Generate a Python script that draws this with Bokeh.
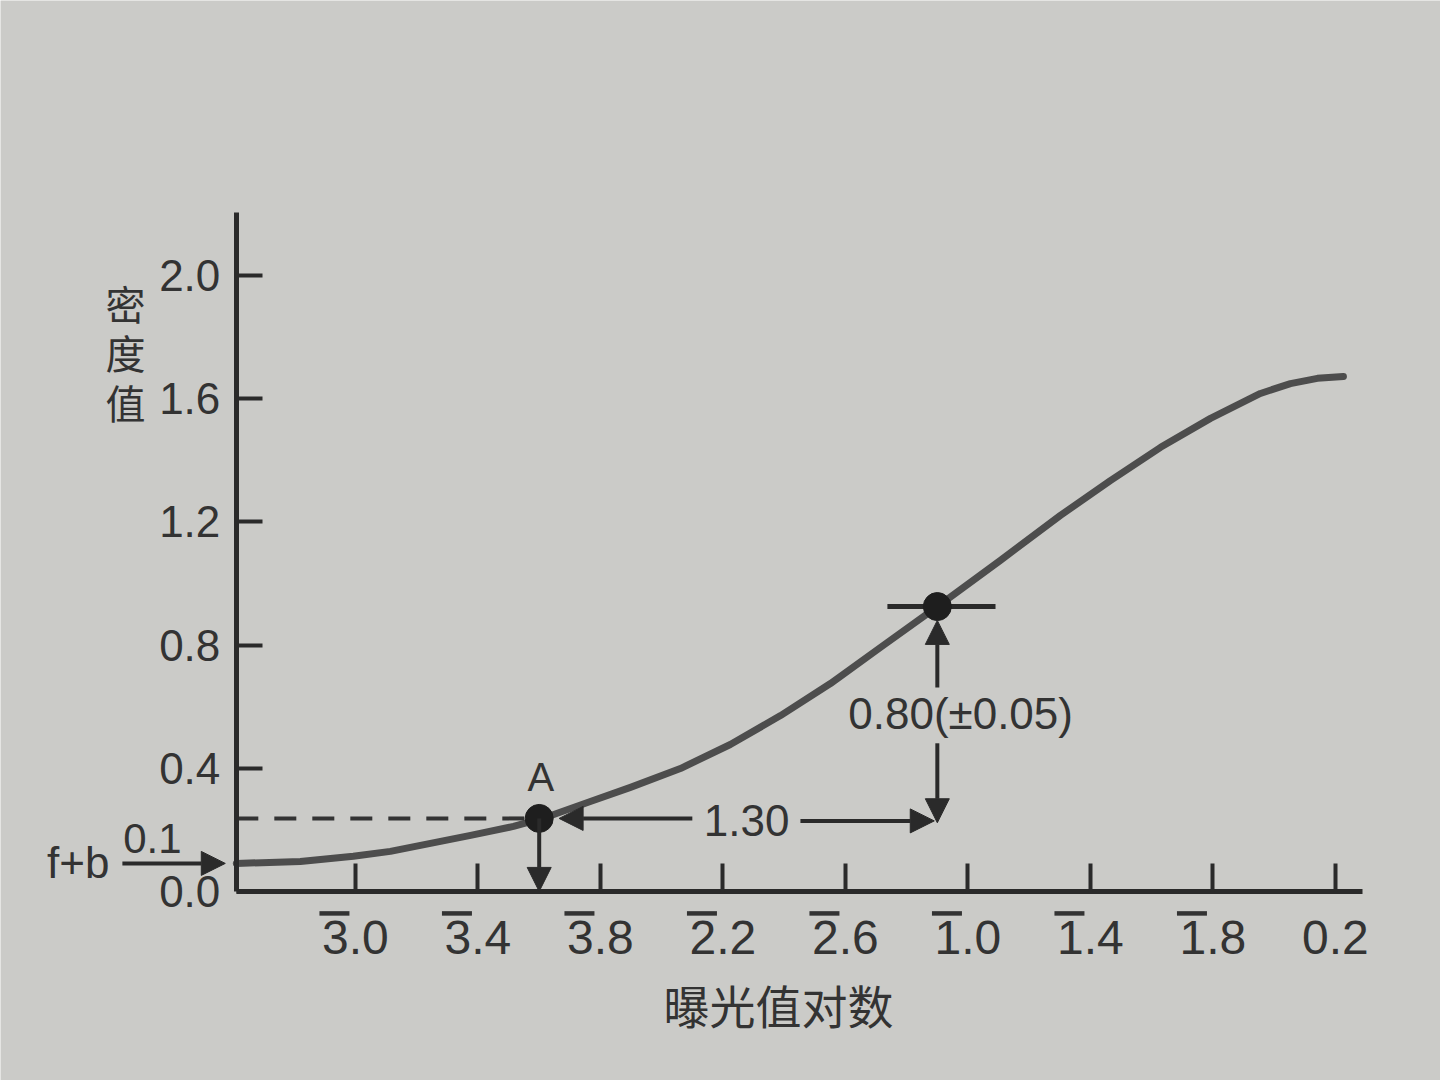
from bokeh.plotting import figure
from bokeh.models import FixedTicker, Label, Arrow, NormalHead, Range1d
from bokeh.embed import file_html
from bokeh.resources import INLINE

# ---- data (log exposure, density) ----
curve_x = [-3.389, -3.180, -3.007, -2.886, -2.755, -2.624, -2.484, -2.389, -2.233,
           -2.102, -1.939, -1.776, -1.612, -1.449, -1.286, -1.100, -0.894, -0.698,
           -0.535, -0.371, -0.208, -0.045, 0.053, 0.141, 0.226]
curve_y = [0.091, 0.097, 0.114, 0.130, 0.156, 0.182, 0.211, 0.237, 0.292,
           0.338, 0.399, 0.477, 0.571, 0.675, 0.792, 0.925, 1.075, 1.221,
           1.334, 1.442, 1.536, 1.617, 1.649, 1.666, 1.672]

x_ticks = [-3.0, -2.6, -2.2, -1.8, -1.4, -1.0, -0.6, -0.2, 0.2]
# bar-notation labels: the characteristic of negative values carries an overbar
x_tick_labels = ["3.0", "3.4", "3.8", "2.2", "2.6", "1.0", "1.4", "1.8", "0.2"]
y_ticks = [0.0, 0.4, 0.8, 1.2, 1.6, 2.0]
y_tick_labels = ["0.0", "0.4", "0.8", "1.2", "1.6", "2.0"]

point_a = (-2.40, 0.237)
point_b = (-1.10, 0.925)
fog_level = 0.091          # f+b
delta_logE = 1.30
delta_D_text = "0.80(\u00b10.05)"

# axis extents (data units)
AX_X0, AX_X1 = -3.389, 0.288
AX_Y0, AX_Y1 = 0.0, 2.204
# whole-canvas view window
W, H = 1440, 1080
VIEW_X = (-4.159, 0.543)
VIEW_Y = (-0.614, 2.893)
PX_X = W / (VIEW_X[1] - VIEW_X[0])
PX_Y = H / (VIEW_Y[1] - VIEW_Y[0])

BG = "#cbcbc8"
INK = "#2a2a2a"
CURVE = "#4d4d4d"
TXT = "#333333"
FONT = "Liberation Sans"
CJK = "Noto Sans CJK SC"

p = figure(width=W, height=H, output_backend="svg", toolbar_location=None,
           x_range=Range1d(*VIEW_X), y_range=Range1d(*VIEW_Y),
           min_border=0, min_border_left=0, min_border_right=0,
           min_border_top=0, min_border_bottom=0)
p.background_fill_color = BG
p.border_fill_color = BG
p.outline_line_color = None
p.grid.visible = False

# axes placed at data locations
xa = p.xaxis[0]
ya = p.yaxis[0]
xa.fixed_location = AX_Y0
xa.bounds = (AX_X0, AX_X1)
ya.fixed_location = AX_X0
ya.bounds = (AX_Y0, AX_Y1)
for ax in (xa, ya):
    ax.axis_line_color = INK
    ax.axis_line_width = 5
    ax.major_tick_line_color = INK
    ax.major_tick_line_width = 4
    ax.major_tick_out = 0
    ax.minor_tick_line_color = None
    ax.major_label_text_color = TXT
    ax.major_label_text_font = FONT

xa.ticker = FixedTicker(ticks=x_ticks)
xa.major_label_overrides = dict(zip(x_ticks, x_tick_labels))
xa.major_tick_in = 28
xa.major_label_text_font_size = "48px"
xa.major_label_standoff = 30

ya.ticker = FixedTicker(ticks=y_ticks)
ya.major_label_overrides = dict(zip(y_ticks, y_tick_labels))
ya.major_tick_in = 26
ya.major_label_text_font_size = "44px"
ya.major_label_standoff = 16

# overbars of the negative characteristics (placed relative to each tick)
bar_ticks = [v for v in x_ticks if v < 0]
p.segment(x0=[v - 36 / PX_X for v in bar_ticks], x1=[v - 6 / PX_X for v in bar_ticks],
          y0=[-22 / PX_Y] * len(bar_ticks), y1=[-22 / PX_Y] * len(bar_ticks),
          line_color=TXT, line_width=4.5)

# characteristic curve
p.line(curve_x, curve_y, line_color=CURVE, line_width=7, line_cap="round",
       line_join="round")

# dashed line from axis to A
p.line([AX_X0, point_a[0]], [point_a[1], point_a[1]], line_color=TXT,
       line_width=4, line_dash="22 16")

# horizontal bar at B
p.line([point_b[0] - 0.163, point_b[0] + 0.19], [point_b[1], point_b[1]],
       line_color=INK, line_width=5)

# points
p.scatter([point_a[0], point_b[0]], [point_a[1], point_b[1]], size=28,
          fill_color="#1e1e1e", line_color="#1e1e1e")

def arrow(x0, y0, x1, y1):
    p.add_layout(Arrow(end=NormalHead(size=24, fill_color=INK, line_color=INK),
                       x_start=x0, y_start=y0, x_end=x1, y_end=y1,
                       line_color=INK, line_width=4))

# A down to axis
arrow(point_a[0], point_a[1], point_a[0], 0.0)
# 1.30 arrows
arrow(-1.900, point_a[1], point_a[0] + 0.065, point_a[1])
arrow(-1.547, point_a[1] - 0.008, point_b[0] - 0.01, point_a[1] - 0.008)
# density arrows at B
arrow(point_b[0], 0.662, point_b[0], point_b[1] - 0.045)
arrow(point_b[0], 0.481, point_b[0], point_a[1] - 0.014)
# f+b arrow
arrow(-3.761, fog_level, -3.425, fog_level)

def label(x, y, text, size, font=FONT, align="center", line_height=1.2):
    p.add_layout(Label(x=x, y=y, text=text, text_font=font,
                       text_font_size=size, text_color=TXT,
                       text_align=align, text_baseline="middle",
                       text_line_height=line_height))

label(point_a[0] + 0.005, 0.372, "A", "40px")
label(-1.723, point_a[1] - 0.007, f"{delta_logE:.2f}", "44px")
label(-1.024, 0.578, delta_D_text, "44px")
label(-3.663, 0.172, "0.1", "42px")
label(-3.905, 0.095, "f+b", "44px")
label(-3.751, 1.75, "密\n度\n值", "40px", font=CJK, line_height=0.85)
label(-1.619, -0.364, "曝光值对数", "46px", font=CJK)

open("out.html", "w").write(file_html(p, INLINE))
